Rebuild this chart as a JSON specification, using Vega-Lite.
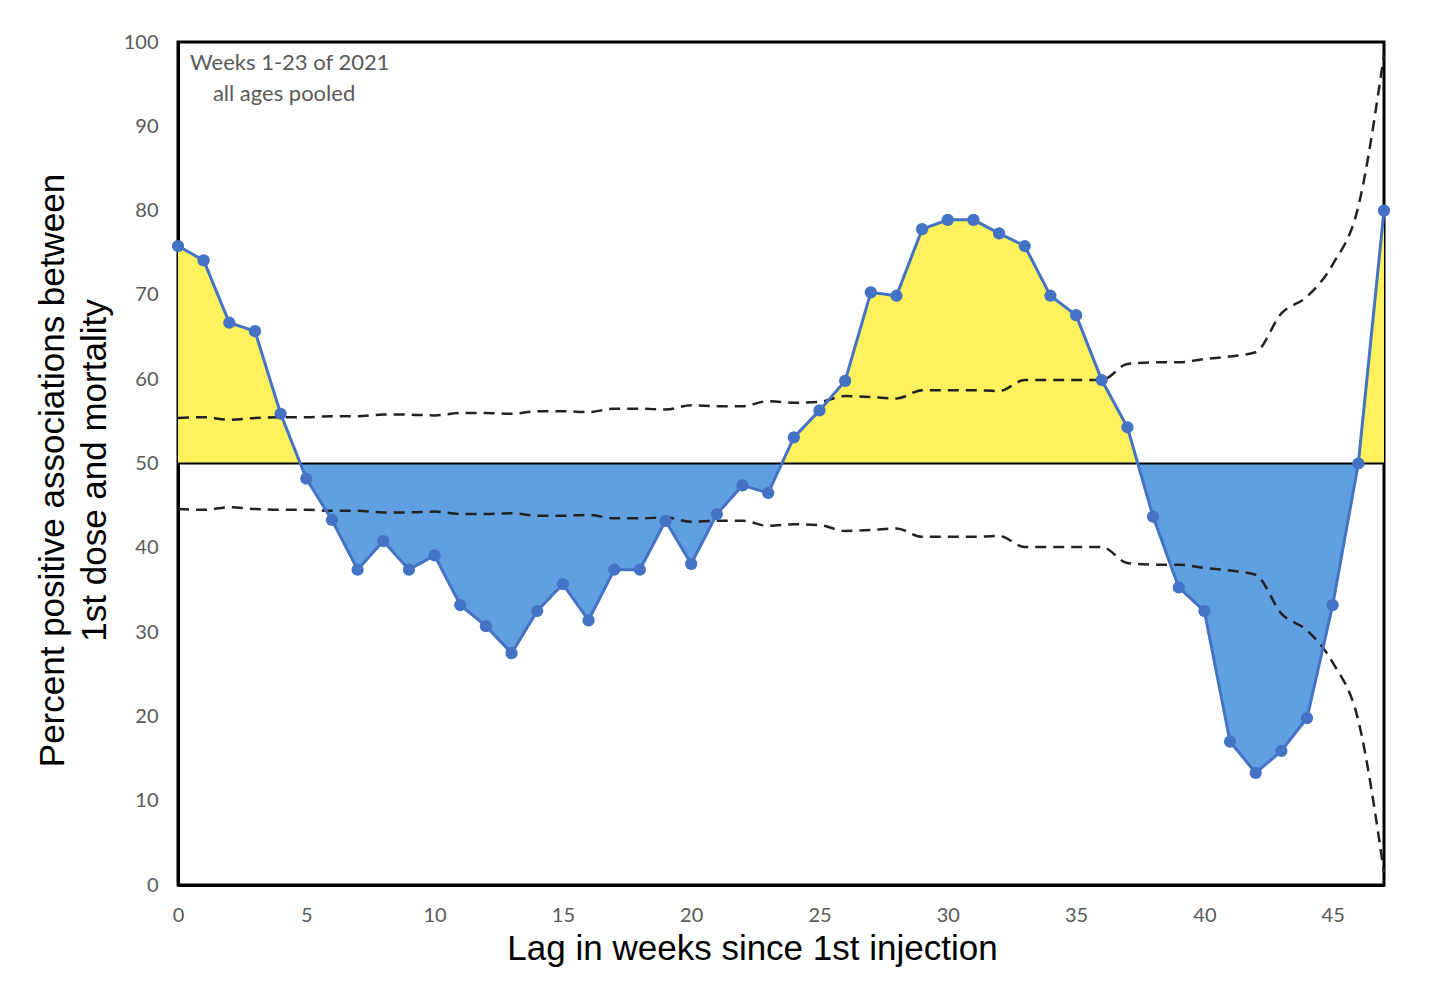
{
  "$schema": "https://vega.github.io/schema/vega-lite/v6.json",
  "autosize": "none",
  "padding": {"left": 178, "top": 42, "right": 72, "bottom": 107},
  "width": 1206,
  "height": 843,
  "background": "white",
  "config": {
    "view": {"stroke": "black", "strokeWidth": 3},
    "axis": {"grid": false, "ticks": false, "labelFlush": false, "labelFont": "Lato", "labelFontSize": 20, "labelColor": "#595959", "domainColor": "black", "domainWidth": 3, "titleFont": "Liberation Sans", "titleFontSize": 35, "titleFontWeight": "normal", "titleColor": "black"}
  },
  "datasets": {
    "main": [
      {"week":0,"pct":75.8},{"week":1,"pct":74.1},{"week":2,"pct":66.7},{"week":3,"pct":65.7},{"week":4,"pct":55.9},
      {"week":5,"pct":48.2},{"week":6,"pct":43.3},{"week":7,"pct":37.4},{"week":8,"pct":40.8},{"week":9,"pct":37.4},
      {"week":10,"pct":39.1},{"week":11,"pct":33.2},{"week":12,"pct":30.7},{"week":13,"pct":27.5},{"week":14,"pct":32.5},
      {"week":15,"pct":35.7},{"week":16,"pct":31.4},{"week":17,"pct":37.4},{"week":18,"pct":37.4},{"week":19,"pct":43.2},
      {"week":20,"pct":38.1},{"week":21,"pct":44.0},{"week":22,"pct":47.4},{"week":23,"pct":46.5},{"week":24,"pct":53.1},
      {"week":25,"pct":56.3},{"week":26,"pct":59.8},{"week":27,"pct":70.3},{"week":28,"pct":69.9},{"week":29,"pct":77.8},
      {"week":30,"pct":78.9},{"week":31,"pct":78.9},{"week":32,"pct":77.3},{"week":33,"pct":75.8},{"week":34,"pct":69.9},
      {"week":35,"pct":67.6},{"week":36,"pct":59.9},{"week":37,"pct":54.3},{"week":38,"pct":43.7},{"week":39,"pct":35.3},
      {"week":40,"pct":32.5},{"week":41,"pct":17.0},{"week":42,"pct":13.3},{"week":43,"pct":15.9},{"week":44,"pct":19.8},
      {"week":45,"pct":33.2},{"week":46,"pct":50.0},{"week":47,"pct":80.0}
    ],
    "fill": [
      {"week":0,"top":75.8,"bottom":50},{"week":1,"top":74.1,"bottom":50},{"week":2,"top":66.7,"bottom":50},{"week":3,"top":65.7,"bottom":50},{"week":4,"top":55.9,"bottom":50},
      {"week":4.77,"top":50,"bottom":50},
      {"week":5,"top":50,"bottom":48.2},{"week":6,"top":50,"bottom":43.3},{"week":7,"top":50,"bottom":37.4},{"week":8,"top":50,"bottom":40.8},{"week":9,"top":50,"bottom":37.4},
      {"week":10,"top":50,"bottom":39.1},{"week":11,"top":50,"bottom":33.2},{"week":12,"top":50,"bottom":30.7},{"week":13,"top":50,"bottom":27.5},{"week":14,"top":50,"bottom":32.5},
      {"week":15,"top":50,"bottom":35.7},{"week":16,"top":50,"bottom":31.4},{"week":17,"top":50,"bottom":37.4},{"week":18,"top":50,"bottom":37.4},{"week":19,"top":50,"bottom":43.2},
      {"week":20,"top":50,"bottom":38.1},{"week":21,"top":50,"bottom":44.0},{"week":22,"top":50,"bottom":47.4},{"week":23,"top":50,"bottom":46.5},
      {"week":23.53,"top":50,"bottom":50},
      {"week":24,"top":53.1,"bottom":50},{"week":25,"top":56.3,"bottom":50},{"week":26,"top":59.8,"bottom":50},{"week":27,"top":70.3,"bottom":50},{"week":28,"top":69.9,"bottom":50},
      {"week":29,"top":77.8,"bottom":50},{"week":30,"top":78.9,"bottom":50},{"week":31,"top":78.9,"bottom":50},{"week":32,"top":77.3,"bottom":50},{"week":33,"top":75.8,"bottom":50},
      {"week":34,"top":69.9,"bottom":50},{"week":35,"top":67.6,"bottom":50},{"week":36,"top":59.9,"bottom":50},{"week":37,"top":54.3,"bottom":50},
      {"week":37.41,"top":50,"bottom":50},
      {"week":38,"top":50,"bottom":43.7},{"week":39,"top":50,"bottom":35.3},{"week":40,"top":50,"bottom":32.5},{"week":41,"top":50,"bottom":17.0},{"week":42,"top":50,"bottom":13.3},
      {"week":43,"top":50,"bottom":15.9},{"week":44,"top":50,"bottom":19.8},{"week":45,"top":50,"bottom":33.2},{"week":46,"top":50,"bottom":50},{"week":47,"top":80.0,"bottom":50}
    ],
    "band": [
      {"week":0,"upper":55.4,"lower":44.6},{"week":1,"upper":55.5,"lower":44.5},{"week":2,"upper":55.2,"lower":44.8},{"week":3,"upper":55.4,"lower":44.6},{"week":4,"upper":55.5,"lower":44.5},
      {"week":5,"upper":55.5,"lower":44.5},{"week":6,"upper":55.6,"lower":44.4},{"week":7,"upper":55.6,"lower":44.4},{"week":8,"upper":55.8,"lower":44.2},{"week":9,"upper":55.8,"lower":44.2},
      {"week":10,"upper":55.7,"lower":44.3},{"week":11,"upper":56.0,"lower":44.0},{"week":12,"upper":56.0,"lower":44.0},{"week":13,"upper":55.9,"lower":44.1},{"week":14,"upper":56.2,"lower":43.8},
      {"week":15,"upper":56.2,"lower":43.8},{"week":16,"upper":56.1,"lower":43.9},{"week":17,"upper":56.5,"lower":43.5},{"week":18,"upper":56.5,"lower":43.5},{"week":19,"upper":56.4,"lower":43.6},
      {"week":20,"upper":56.9,"lower":43.1},{"week":21,"upper":56.8,"lower":43.2},{"week":22,"upper":56.8,"lower":43.2},{"week":23,"upper":57.4,"lower":42.6},{"week":24,"upper":57.2,"lower":42.8},
      {"week":25,"upper":57.3,"lower":42.7},{"week":26,"upper":58.0,"lower":42.0},{"week":27,"upper":57.9,"lower":42.1},{"week":28,"upper":57.7,"lower":42.3},{"week":29,"upper":58.7,"lower":41.3},
      {"week":30,"upper":58.7,"lower":41.3},{"week":31,"upper":58.7,"lower":41.3},{"week":32,"upper":58.6,"lower":41.4},{"week":33,"upper":59.9,"lower":40.1},{"week":34,"upper":59.9,"lower":40.1},
      {"week":35,"upper":59.9,"lower":40.1},{"week":36,"upper":59.9,"lower":40.1},{"week":37,"upper":61.8,"lower":38.2},{"week":38,"upper":62.0,"lower":38.0},{"week":39,"upper":62.0,"lower":38.0},
      {"week":40,"upper":62.4,"lower":37.6},{"week":41,"upper":62.7,"lower":37.3},{"week":42,"upper":63.2,"lower":36.8},{"week":43,"upper":67.8,"lower":32.2},{"week":44,"upper":69.8,"lower":30.2},
      {"week":45,"upper":73.6,"lower":26.4},{"week":46,"upper":80.5,"lower":19.5},{"week":47,"upper":98.5,"lower":1.5}
    ]
  },
  "layer": [
    {
      "data": {"name": "fill"},
      "mark": {"type": "area", "color": "#FDF15D", "opacity": 1},
      "encoding": {
        "x": {"field": "week", "type": "quantitative",
          "scale": {"domain": [0, 47], "nice": false, "zero": false},
          "axis": {"values": [0,5,10,15,20,25,30,35,40,45], "labelPadding": 20, "title": "Lag in weeks since 1st injection", "titleX": 574, "titleY": 46}},
        "y": {"field": "top", "type": "quantitative", "scale": {"domain": [0, 100], "nice": false},
          "axis": {"values": [0,10,20,30,40,50,60,70,80,90,100], "labelPadding": 20, "title": ["Percent positive associations between", "1st dose and mortality"], "titleLineHeight": 42, "titleX": -108, "titleY": 428}},
        "y2": {"datum": 50}
      }
    },
    {
      "data": {"name": "fill"},
      "mark": {"type": "area", "color": "#60A0E0", "opacity": 1},
      "encoding": {
        "x": {"field": "week", "type": "quantitative"},
        "y": {"field": "bottom", "type": "quantitative"},
        "y2": {"datum": 50}
      }
    },
    {
      "data": {"values": [{}]},
      "mark": {"type": "rule", "color": "black", "strokeWidth": 2},
      "encoding": {"y": {"datum": 50}, "x": {"datum": 0}, "x2": {"datum": 47}}
    },
    {
      "data": {"name": "band"},
      "mark": {"type": "line", "color": "#222222", "strokeWidth": 2.5, "strokeDash": [11, 7], "interpolate": "monotone"},
      "encoding": {"x": {"field": "week", "type": "quantitative"}, "y": {"field": "upper", "type": "quantitative"}}
    },
    {
      "data": {"name": "band"},
      "mark": {"type": "line", "color": "#222222", "strokeWidth": 2.5, "strokeDash": [11, 7], "interpolate": "monotone"},
      "encoding": {"x": {"field": "week", "type": "quantitative"}, "y": {"field": "lower", "type": "quantitative"}}
    },
    {
      "data": {"name": "main"},
      "mark": {"type": "line", "color": "#4472C4", "strokeWidth": 3},
      "encoding": {"x": {"field": "week", "type": "quantitative"}, "y": {"field": "pct", "type": "quantitative"}}
    },
    {
      "data": {"name": "main"},
      "mark": {"type": "point", "filled": true, "color": "#4472C4", "opacity": 1, "size": 150},
      "encoding": {"x": {"field": "week", "type": "quantitative"}, "y": {"field": "pct", "type": "quantitative"}}
    },
    {
      "data": {"values": [{}]},
      "mark": {"type": "text", "text": "Weeks 1-23 of 2021", "align": "left", "baseline": "alphabetic", "font": "Lato", "fontSize": 22, "color": "#595959"},
      "encoding": {"x": {"datum": 0.47}, "y": {"datum": 96.7}}
    },
    {
      "data": {"values": [{}]},
      "mark": {"type": "text", "text": "all ages pooled", "align": "left", "baseline": "alphabetic", "font": "Lato", "fontSize": 22, "color": "#595959"},
      "encoding": {"x": {"datum": 1.36}, "y": {"datum": 93.0}}
    }
  ]
}
